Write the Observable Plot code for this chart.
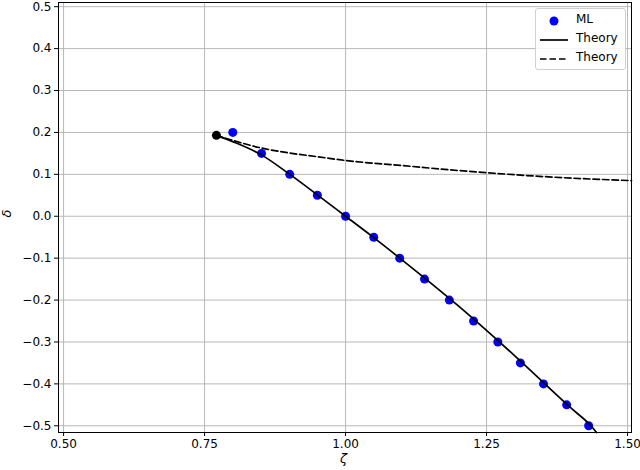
<!DOCTYPE html>
<html>
<head>
<meta charset="utf-8">
<script src="https://cdn.jsdelivr.net/npm/d3@7"></script>
<script src="https://cdn.jsdelivr.net/npm/@observablehq/plot@0.6"></script>
<style>
  body { margin: 0; background: #fff; }
  #wrap { position: relative; width: 640px; height: 470px; font-family: "DejaVu Sans", sans-serif; }
  #legend { position: absolute; left: 535px; top: 8px; width: 91px; height: 62px; box-sizing: border-box;
    border: 1px solid #d0d0d0; border-radius: 3px; background: rgba(255,255,255,0.85); font-size: 12px; }
  .row { position: absolute; left: 0; height: 18px; width: 100%; }
  .row span { position: absolute; left: 40px; top: 1px; color: #000; }
  .sym { position: absolute; left: 0; top: 0; }
  .axlabel { position: absolute; font-family: "DejaVu Sans", sans-serif; font-style: italic; font-size: 13px; color: #000; }
</style>
</head>
<body>
<div id="wrap"></div>
<script>
// ML points (zeta, delta)
const mlZeta  = [0.800, 0.851, 0.901, 0.950, 1.000, 1.050, 1.096, 1.140, 1.184, 1.227, 1.270, 1.310, 1.351, 1.392, 1.431];
const mlDelta = [0.20, 0.15, 0.10, 0.05, 0.00, -0.05, -0.10, -0.15, -0.20, -0.25, -0.30, -0.35, -0.40, -0.45, -0.50];
// Theory branch 1 (solid)
const solidZeta  = [0.771, 0.800, 0.850, 0.900, 0.950, 1.000, 1.050, 1.100, 1.200, 1.300, 1.400, 1.435, 1.445];
const solidDelta = [0.193, 0.178, 0.147, 0.101, 0.051, 0.000, -0.051, -0.104, -0.214, -0.333, -0.458, -0.500, -0.516];
// Theory branch 2 (dashed)
const dashZeta  = [0.771, 0.800, 0.850, 0.900, 0.950, 1.000, 1.100, 1.200, 1.250, 1.300, 1.400, 1.507];
const dashDelta = [0.193, 0.181, 0.163, 0.151, 0.142, 0.133, 0.121, 0.109, 0.104, 0.099, 0.091, 0.085];
// Critical point
const critZeta = [0.771];
const critDelta = [0.193];
// Ticks and labels
const xTicks = [0.50, 0.75, 1.00, 1.25, 1.50];
const yTicks = [-0.5, -0.4, -0.3, -0.2, -0.1, 0.0, 0.1, 0.2, 0.3, 0.4, 0.5];
const xLabel = "ζ";
const yLabel = "δ";

const ml = mlZeta.map((z, i) => ({z, d: mlDelta[i]}));
const solid = solidZeta.map((z, i) => ({z, d: solidDelta[i]}));
const dash = dashZeta.map((z, i) => ({z, d: dashDelta[i]}));
const crit = critZeta.map((z, i) => ({z, d: critDelta[i]}));

const fmtX = d3.format(".2f");
const fmtY = d3.format(".1f");

const chart = Plot.plot({
  width: 640,
  height: 470,
  marginLeft: 58,
  marginRight: 9,
  marginTop: 2,
  marginBottom: 38,
  style: { fontFamily: "DejaVu Sans, sans-serif", fontSize: "12px", background: "#fff", color: "#000" },
  x: { domain: [0.491, 1.507] },
  y: { domain: [-0.516, 0.51] },
  marks: [
    Plot.gridX(xTicks, { stroke: "#b0b0b0", strokeOpacity: 1, strokeWidth: 0.9 }),
    Plot.gridY(yTicks, { stroke: "#b0b0b0", strokeOpacity: 1, strokeWidth: 0.9 }),
    Plot.axisX({ ticks: xTicks, tickFormat: fmtX, tickSize: 4, tickPadding: 3, label: null, fontSize: "12px" }),
    Plot.axisY({ ticks: yTicks, tickFormat: fmtY, tickSize: 4, tickPadding: 3, label: null, fontSize: "12px" }),
    Plot.dot(ml, { x: "z", y: "d", r: 4.5, fill: "#0000ff", stroke: "none" }),
    Plot.line(solid, { x: "z", y: "d", stroke: "#000", strokeWidth: 1.7, curve: "monotone-x" }),
    Plot.line(dash, { x: "z", y: "d", stroke: "#000", strokeWidth: 1.7, strokeDasharray: "6.5,3", curve: "monotone-x" }),
    Plot.dot(crit, { x: "z", y: "d", r: 4.5, fill: "#000", stroke: "none" }),
    Plot.frame({ stroke: "#000", strokeWidth: 1 })
  ]
});

const wrap = document.getElementById("wrap");
wrap.appendChild(chart);

// Axis labels
const xl = document.createElement("div");
xl.className = "axlabel";
xl.textContent = xLabel;
xl.style.left = "340px";
xl.style.top = "451px";
wrap.appendChild(xl);
const yl = document.createElement("div");
yl.className = "axlabel";
yl.textContent = yLabel;
yl.style.left = "3px";
yl.style.top = "206px";
yl.style.transform = "rotate(-90deg)";
wrap.appendChild(yl);

// Legend
const legendItems = [
  { label: "ML", kind: "dot" },
  { label: "Theory", kind: "solid" },
  { label: "Theory", kind: "dash" }
];
const leg = document.createElement("div");
leg.id = "legend";
legendItems.forEach((it, i) => {
  const row = document.createElement("div");
  row.className = "row";
  row.style.top = (2 + i * 19) + "px";
  let sym;
  if (it.kind === "dot") {
    sym = `<svg class="sym" width="36" height="18"><circle cx="18" cy="10" r="4.5" fill="#0000ff"/></svg>`;
  } else if (it.kind === "solid") {
    sym = `<svg class="sym" width="36" height="18"><line x1="4" x2="32" y1="10" y2="10" stroke="#000" stroke-width="1.7"/></svg>`;
  } else {
    sym = `<svg class="sym" width="36" height="18"><line x1="4" x2="32" y1="10" y2="10" stroke="#000" stroke-width="1.7" stroke-dasharray="6.5,3"/></svg>`;
  }
  row.innerHTML = sym + `<span>${it.label}</span>`;
  leg.appendChild(row);
});
wrap.appendChild(leg);
</script>
</body>
</html>
